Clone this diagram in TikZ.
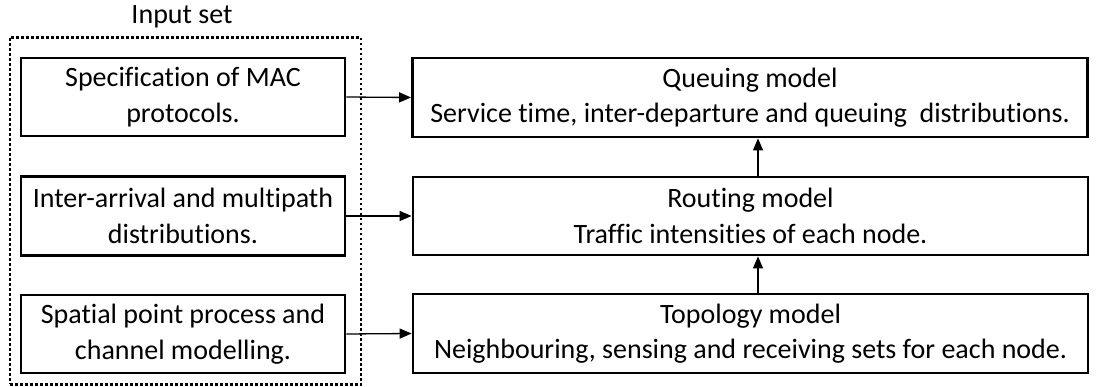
\documentclass[tikz,border=0pt]{standalone}
\usepackage{fontspec}
\setmainfont[Ligatures={NoCommon}]{Carlito}
\usetikzlibrary{arrows.meta}
\begin{document}
\begin{tikzpicture}[x=1pt,y=-1pt,
  box/.style={draw,line width=2.8pt,align=center,inner sep=0pt,font=\fontsize{28}{35.5}\selectfont},
  conn/.style={line width=1.3pt,-{Triangle[length=12pt,width=10pt]}},
  inbox/.style={draw,line width=2.6pt,dash pattern=on 2.6pt off 2.4pt,inner sep=0pt}]
\useasboundingbox (0,0) rectangle (1101,387);
\node[inbox,minimum width=351pt,minimum height=347pt] (input) at (185.5,211) {};
\node[font=\fontsize{28}{35}\selectfont] (inlabel) at (182,17) {Input set};
\node[box,minimum width=324pt,minimum height=78pt] (mac) at (183,97) {Specification of MAC\\protocols.};
\node[box,minimum width=324pt,minimum height=79pt] (arr) at (183,216) {Inter-arrival and multipath\\distributions.};
\node[box,minimum width=324pt,minimum height=78pt] (spat) at (183,334) {Spatial point process and\\channel modelling.};
\node[box,minimum width=675pt,minimum height=79pt] (queue) at (750,97.5) {Queuing model\\Service time, inter-departure and queuing~ distributions.};
\node[box,minimum width=675pt,minimum height=78pt] (route) at (750.5,216) {Routing model\\Traffic intensities of each node.};
\node[box,minimum width=675pt,minimum height=79pt] (topo) at (750.5,333.5) {Topology model\\Neighbouring, sensing and receiving sets for each node.};
\draw[conn] (mac.east) -- (queue.west);
\draw[conn] (arr.east) -- (route.west);
\draw[conn] (spat.east) -- (topo.west);
\draw[conn] ([xshift=7.5pt]route.north) -- ([xshift=8pt]queue.south);
\draw[conn] ([xshift=7.5pt]topo.north) -- ([xshift=7.5pt]route.south);
\end{tikzpicture}
\end{document}
